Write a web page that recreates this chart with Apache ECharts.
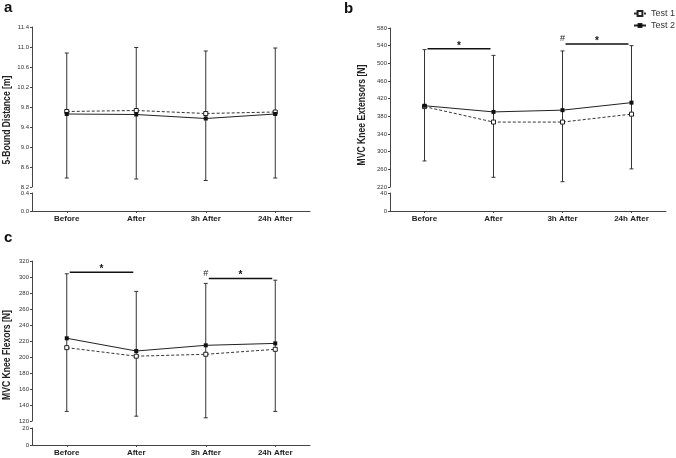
<!DOCTYPE html>
<html>
<head>
<meta charset="utf-8">
<script src="https://cdn.jsdelivr.net/npm/echarts@6/dist/echarts.min.js"></script>
<style>
html,body{margin:0;padding:0;background:#fff;}
#chart{width:676px;height:458px;}
</style>
</head>
<body>
<div id="chart"></div>
<script>
const categories = ['Before', 'After', '3h After', '24h After'];
const seriesNames = ['Test 1', 'Test 2'];

// Panel a: 5-Bound Distance [m]
const aTest1 = [9.71, 9.73, 9.67, 9.70];
const aTest2 = [9.66, 9.65, 9.57, 9.66];
const aErrLow = [8.38, 8.36, 8.33, 8.38];
const aErrHigh = [10.88, 10.99, 10.92, 10.98];
const aUpperTicks = [8.2, 11.4, 0.4];   // min, max, interval
const aLowerTicks = [0, 0.4, 0.4];

// Panel b: MVC Knee Extensors [N]
const bTest1 = [402, 367, 367, 385];
const bTest2 = [404, 390, 394, 411];
const bErrLow = [279, 242, 232, 261];
const bErrHigh = [531, 518, 528, 540];
const bSig = [[0, 1, 533], [2, 3, 544]];
const bHash = [[2, 544]];
const bUpperTicks = [220, 580, 40];
const bLowerTicks = [0, 40, 40];

// Panel c: MVC Knee Flexors [N]
const cTest1 = [211.7, 201, 203.4, 209.6];
const cTest2 = [223.4, 207.5, 214.6, 217];
const cErrLow = [132, 126, 124, 132];
const cErrHigh = [304, 282, 292, 296];
const cSig = [[0, 1, 306], [2, 3, 298]];
const cHash = [[2, 298]];
const cUpperTicks = [120, 320, 20];
const cLowerTicks = [0, 20, 20];

const FONT = '"Liberation Sans", Arial, sans-serif';
const AXIS_COLOR = '#444';

const panels = [
  {upper:{left:32, top:27, width:278, height:160}, lower:{left:32, top:193, width:278, height:18},
   t1:aTest1, t2:aTest2, lo:aErrLow, hi:aErrHigh, ut:aUpperTicks, lt:aLowerTicks, dec:1, sig:[], hash:[]},
  {upper:{left:390, top:28, width:276, height:159}, lower:{left:390, top:193, width:276, height:18},
   t1:bTest1, t2:bTest2, lo:bErrLow, hi:bErrHigh, ut:bUpperTicks, lt:bLowerTicks, dec:0, sig:bSig, hash:bHash},
  {upper:{left:32, top:261, width:278, height:160}, lower:{left:32, top:428, width:278, height:17},
   t1:cTest1, t2:cTest2, lo:cErrLow, hi:cErrHigh, ut:cUpperTicks, lt:cLowerTicks, dec:0, sig:cSig, hash:cHash}
];

const grid = [], xAxis = [], yAxis = [], series = [];

function yAx(gi, t, dec) {
  return {
    type:'value', gridIndex:gi, min:t[0], max:t[1], interval:t[2],
    splitLine:{show:false},
    axisLine:{show:true, lineStyle:{color:AXIS_COLOR, width:1}},
    axisTick:{show:true, length:2, lineStyle:{color:AXIS_COLOR}},
    axisLabel:{fontSize:6, margin:3, color:'#333', fontFamily:FONT,
      formatter:v => Number(v).toFixed(dec)}
  };
}

function errRender(params, api) {
  const i = api.value(0);
  const lo = api.coord([i, api.value(1)]);
  const hi = api.coord([i, api.value(2)]);
  const w = 2;
  const style = {stroke:'#333', lineWidth:1};
  return {type:'group', children:[
    {type:'line', shape:{x1:lo[0], y1:lo[1], x2:hi[0], y2:hi[1]}, style:style},
    {type:'line', shape:{x1:lo[0]-w, y1:lo[1], x2:lo[0]+w, y2:lo[1]}, style:style},
    {type:'line', shape:{x1:hi[0]-w, y1:hi[1], x2:hi[0]+w, y2:hi[1]}, style:style}
  ]};
}

function sigRender(params, api) {
  const a = api.coord([api.value(0), api.value(2)]);
  const b = api.coord([api.value(1), api.value(2)]);
  return {type:'group', children:[
    {type:'line', shape:{x1:a[0]+3, y1:a[1], x2:b[0]-3, y2:b[1]}, style:{stroke:'#111', lineWidth:1.5}},
    {type:'text', x:(a[0]+b[0])/2, y:a[1]-3, style:{text:'*', font:'bold 10px ' + FONT, fill:'#111', align:'center', verticalAlign:'middle'}}
  ]};
}

function hashRender(params, api) {
  const p = api.coord([api.value(0), api.value(1)]);
  return {type:'text', x:p[0], y:p[1]-5, style:{text:'#', font:'9px ' + FONT, fill:'#222', align:'center', verticalAlign:'middle'}};
}

panels.forEach((p, k) => {
  const gu = grid.length, gl = gu + 1;
  grid.push(p.upper, p.lower);
  xAxis.push({type:'category', gridIndex:gu, data:categories, show:false, boundaryGap:true});
  xAxis.push({type:'category', gridIndex:gl, data:categories, boundaryGap:true,
    axisLine:{show:true, lineStyle:{color:AXIS_COLOR, width:1}},
    axisTick:{show:true, alignWithLabel:true, length:2, lineStyle:{color:AXIS_COLOR}},
    axisLabel:{fontSize:8, fontWeight:'bold', color:'#222', margin:4, fontFamily:FONT}});
  yAxis.push(yAx(gu, p.ut, p.dec), yAx(gl, p.lt, p.dec));

  series.push({
    type:'custom', xAxisIndex:gu, yAxisIndex:gu, renderItem:errRender, z:1, silent:true,
    encode:{x:0, y:[1,2]},
    data:categories.map((c, i) => [i, p.lo[i], p.hi[i]])
  });
  series.push({
    name:seriesNames[0], type:'line', xAxisIndex:gu, yAxisIndex:gu, data:p.t1, z:3,
    symbol:'rect', symbolSize:4, showAllSymbol:true,
    lineStyle:{color:'#333', width:1, type:[3,2]},
    itemStyle:{color:'#fff', borderColor:'#222', borderWidth:1}
  });
  series.push({
    name:seriesNames[1], type:'line', xAxisIndex:gu, yAxisIndex:gu, data:p.t2, z:4,
    symbol:'rect', symbolSize:4, showAllSymbol:true,
    lineStyle:{color:'#222', width:1, type:'solid'},
    itemStyle:{color:'#111', borderColor:'#111', borderWidth:0}
  });
  if (p.sig.length) {
    series.push({type:'custom', xAxisIndex:gu, yAxisIndex:gu, renderItem:sigRender, z:5, silent:true,
      encode:{x:0, y:2}, data:p.sig});
    series.push({type:'custom', xAxisIndex:gu, yAxisIndex:gu, renderItem:hashRender, z:5, silent:true,
      encode:{x:0, y:1}, data:p.hash});
  }
});

function title(x, y, text) {
  return {type:'text', x:x, y:y, rotation:Math.PI/2, scaleX:0.86,
    style:{text:text, font:'bold 10px ' + FONT, fill:'#222', align:'center', verticalAlign:'middle'}};
}
function panelLabel(x, y, text) {
  return {type:'text', x:x, y:y, style:{text:text, font:'bold 15px ' + FONT, fill:'#111', align:'left', verticalAlign:'middle'}};
}

const chart = echarts.init(document.getElementById('chart'), null, {renderer:'canvas'});
chart.setOption({
  animation:false,
  backgroundColor:'#fff',
  grid:grid, xAxis:xAxis, yAxis:yAxis, series:series,
  legend:{
    data:seriesNames, orient:'vertical', left:633, top:9, padding:0,
    itemWidth:12, itemHeight:6, itemGap:3,
    textStyle:{fontSize:9, color:'#333', fontFamily:FONT}
  },
  graphic:[
    panelLabel(4, 8, 'a'), panelLabel(344, 9, 'b'), panelLabel(4, 238, 'c'),
    title(7, 120, '5-Bound Distance [m]'),
    title(362, 115, 'MVC Knee Extensors [N]'),
    title(7, 355, 'MVC Knee Flexors [N]')
  ]
});
</script>
</body>
</html>
